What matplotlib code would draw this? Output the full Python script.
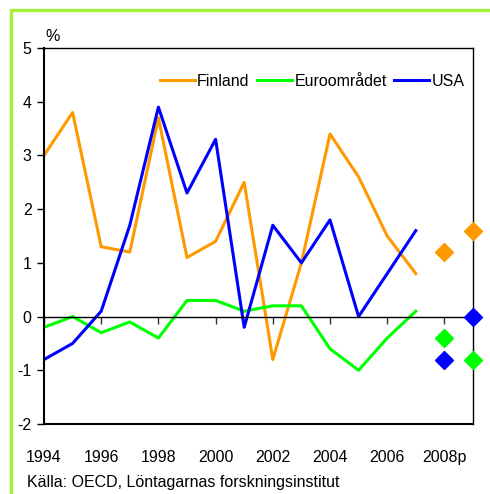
import matplotlib
matplotlib.use('Agg')
import matplotlib.pyplot as plt
from matplotlib.patches import Rectangle
from matplotlib import font_manager

# data ---------------------------------------------------------------
years = [1994, 1995, 1996, 1997, 1998, 1999, 2000, 2001, 2002, 2003, 2004, 2005, 2006, 2007]
finland = [3.0, 3.8, 1.3, 1.2, 3.7, 1.1, 1.4, 2.5, -0.8, 1.0, 3.4, 2.6, 1.5, 0.8]
euro = [-0.2, 0.0, -0.3, -0.1, -0.4, 0.3, 0.3, 0.1, 0.2, 0.2, -0.6, -1.0, -0.4, 0.1]
usa = [-0.8, -0.5, 0.1, 1.7, 3.9, 2.3, 3.3, -0.2, 1.7, 1.0, 1.8, 0.0, 0.8, 1.6]

fc_years = [2008, 2009]
finland_fc = [1.2, 1.6]
euro_fc = [-0.4, -0.8]
usa_fc = [-0.8, 0.0]

xticks = [1994, 1996, 1998, 2000, 2002, 2004, 2006, 2008]
xlabels = ['1994', '1996', '1998', '2000', '2002', '2004', '2006', '2008p']
yticks = [-2, -1, 0, 1, 2, 3, 4, 5]

orange = '#ff9900'
green = '#00ff00'
blue = '#0000ff'

names = [f.name for f in font_manager.fontManager.ttflist]
fam = 'Liberation Sans Narrow' if 'Liberation Sans Narrow' in names else 'Liberation Sans'
plt.rcParams['font.family'] = [fam, 'DejaVu Sans']
plt.rcParams['axes.unicode_minus'] = False
fs = 11.5

fig = plt.figure(figsize=(4.9, 4.94), dpi=100)
ax = fig.add_axes([44/490, 70/494, 429/490, 376/494])

ax.plot(years, finland, color=orange, lw=2.2, label='Finland')
ax.plot(years, euro, color=green, lw=2.2, label='Euroområdet')
ax.plot(years, usa, color=blue, lw=2.2, label='USA')

ax.plot(fc_years, finland_fc, 'D', color=orange, ms=9, ls='none', clip_on=False, zorder=5)
ax.plot(fc_years, euro_fc, 'D', color=green, ms=9, ls='none', clip_on=False, zorder=5)
ax.plot(fc_years, usa_fc, 'D', color=blue, ms=9, ls='none', clip_on=False, zorder=5)

ax.set_xlim(1994, 2009)
ax.set_ylim(-2, 5)

# bottom spine acts as zero line with year ticks
ax.spines['bottom'].set_position(('data', 0))
ax.axhline(-2, color='black', lw=1.5, clip_on=False)
for s in ['left', 'right', 'top', 'bottom']:
    ax.spines[s].set_linewidth(1.0)
ax.spines['left'].set_linewidth(1.5)
ax.set_xticks(xticks)
ax.tick_params(axis='x', direction='out', length=5, width=1, labelbottom=False, color='#333333')
ax.set_yticks(yticks)
ax.tick_params(axis='y', direction='out', length=5, width=1, labelsize=fs, pad=4)

# year labels below the box
ax2 = ax.twiny()
ax2.set_xlim(ax.get_xlim())
ax2.xaxis.set_ticks_position('bottom')
ax2.xaxis.set_label_position('bottom')
ax2.spines['bottom'].set_position(('axes', 0))
for s in ax2.spines.values():
    s.set_visible(False)
ax2.set_xticks(xticks)
ax2.set_xticklabels(xlabels)
ax2.tick_params(axis='x', length=0, pad=19, labelsize=fs)

ax.text(1994.3, 5.07, '%', fontsize=fs, ha='center', va='bottom')

leg = ax.legend(loc='upper center', bbox_to_anchor=(0.625, 0.97), ncol=3, frameon=False,
                fontsize=fs, handlelength=2.2, handletextpad=0.15, columnspacing=0.45)

fig.text(27/490, 1 - 482/494, 'Källa: OECD, Löntagarnas forskningsinstitut', fontsize=fs,
         ha='left', va='center')

fig.patches.append(Rectangle((10.5/490, -0.1), 1.2, 1 - 10.5/494 + 0.1, transform=fig.transFigure,
                             fill=False, edgecolor='#a6f03a', lw=2.4))

fig.savefig('out.png', dpi=100)
